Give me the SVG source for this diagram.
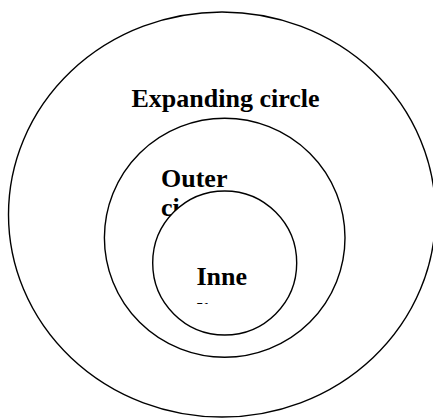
<svg xmlns="http://www.w3.org/2000/svg" width="433" height="418" viewBox="0 0 433 418">
<style>
.c{fill:#fff;stroke:#000;stroke-width:1.4}
.t{font-family:"Liberation Serif","Times New Roman",serif;font-weight:bold;font-size:26px;fill:#000}
</style>
<defs>
<clipPath id="clipInner"><rect x="190" y="255" width="80" height="49"/></clipPath>
</defs>
<rect width="433" height="418" fill="#fff"/>
<g id="expanding">
<ellipse class="c" cx="222" cy="214.5" rx="213.5" ry="202.5"/>
<text class="t" x="131.5" y="106.5">Expanding circle</text>
</g>
<g id="outer">
<ellipse class="c" cx="224.7" cy="237.8" rx="120.3" ry="119.5"/>
<text class="t" x="161" y="186.5">Outer</text>
<text class="t" x="161" y="216">ci</text>
</g>
<g id="inner">
<ellipse class="c" cx="224.7" cy="263" rx="72" ry="72"/>
<g clip-path="url(#clipInner)">
<text class="t" x="196.5" y="285">Inne</text>
<text class="t" x="196.5" y="314.5">r</text>
</g>
</g>
<g id="connectors"/>
</svg>
